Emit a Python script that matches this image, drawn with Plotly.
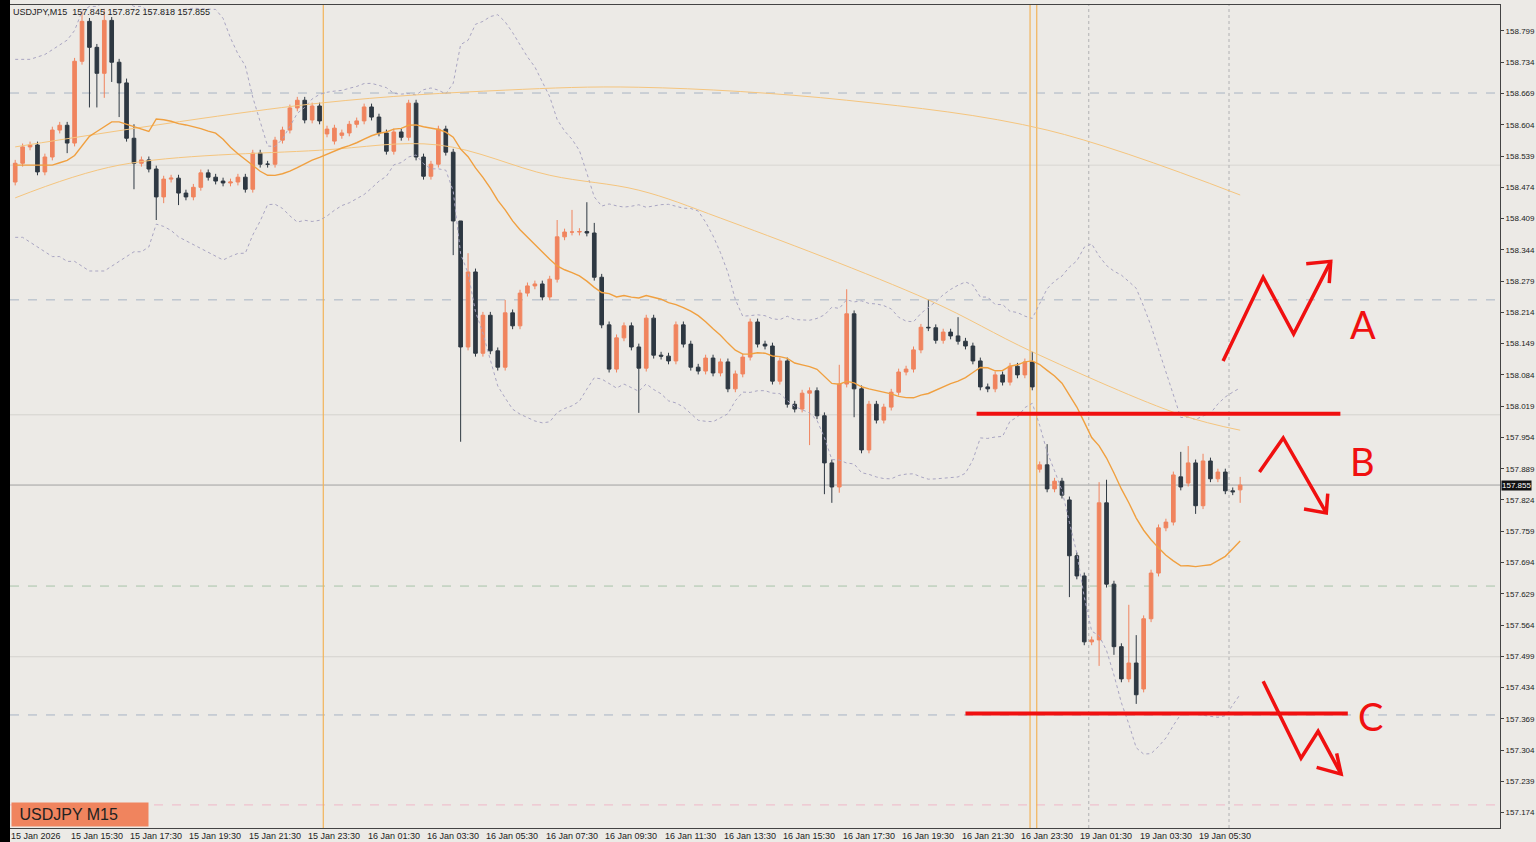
import plotly.graph_objects as go
import pandas as pd
import numpy as np

closes = [158.524,158.558,158.562,158.506,158.537,158.593,158.603,158.566,158.736,158.819,
158.765,158.711,158.821,158.734,158.691,158.576,158.524,158.531,158.512,158.454,
158.491,158.493,158.462,158.454,158.474,158.504,158.495,158.487,158.483,158.485,
158.495,158.470,158.545,158.522,158.522,158.572,158.593,158.639,158.655,158.614,
158.643,158.612,158.595,158.597,158.587,158.605,158.612,158.641,158.620,158.587,
158.549,158.589,158.578,158.649,158.537,158.497,158.522,158.595,158.547,158.404,
158.142,158.298,158.129,158.208,158.134,158.100,158.213,158.186,158.254,158.269,
158.273,158.246,158.283,158.371,158.381,158.381,158.382,158.379,158.287,158.188,
158.096,158.161,158.186,158.142,158.098,158.202,158.125,158.123,158.113,158.188,
158.148,158.100,158.092,158.119,158.088,158.111,158.055,158.086,158.121,158.194,
158.148,158.144,158.071,158.113,158.023,158.013,158.046,158.051,157.999,157.901,
157.851,158.065,158.211,158.055,157.928,158.023,157.990,158.017,158.048,158.090,
158.096,158.136,158.183,158.182,158.156,158.173,158.165,158.154,158.144,158.113,
158.059,158.055,158.084,158.069,158.102,158.084,158.111,158.059,157.897,157.847,
157.863,157.834,157.708,157.666,157.529,157.533,157.818,157.649,157.519,157.452,
157.485,157.419,157.577,157.672,157.766,157.778,157.876,157.851,157.901,157.812,
157.905,157.868,157.882,157.843,157.841,157.855]
first_open = 158.485
open_overrides = {42:158.585,43:158.570,44:158.582,138:157.888,142:157.824,152:157.431,
                  157:157.872,158:157.859,165:157.845}
high_overrides = {9:158.840,12:158.845,15:158.700,16:158.605,60:158.150,61:158.337,66:158.240,
                  73:158.406,75:158.427,77:158.443,78:158.400,111:158.105,112:158.262,
                  123:158.240,127:158.204,137:158.132,139:157.940,146:157.861,147:157.866,
                  150:157.606,151:157.543,157:157.924,158:157.936,160:157.920,161:157.912,165:157.872}
low_overrides = {7:158.545,10:158.640,11:158.640,12:158.660,13:158.693,14:158.620,16:158.470,
                 19:158.406,20:158.441,22:158.437,59:158.333,60:157.945,84:158.005,107:157.938,
                 109:157.836,110:157.818,111:157.839,113:157.996,142:157.622,146:157.479,
                 148:157.502,151:157.400,159:157.795,165:157.818}
wick = 0.007

# Bollinger band / MA values for the first candles (before 20 bars exist)
bb_upper_start = [158.74,158.74,158.74,158.745,158.75,158.76,158.77,158.78,158.80,158.84,
                  158.85,158.85,158.86,158.86,158.86,158.86,158.85,158.85,158.84]
bb_lower_start = [158.37,158.37,158.36,158.35,158.34,158.33,158.33,158.32,158.32,158.31,
                  158.30,158.30,158.30,158.31,158.32,158.33,158.34,158.34,158.35]
ma_start = [158.52,158.52,158.52,158.52,158.52,158.52,158.525,158.53,158.54,158.56,
            158.58,158.59,158.60,158.61,158.61,158.605,158.60,158.595,158.59]

tick_prices = ["158.799","158.734","158.669","158.604","158.539","158.474","158.409","158.344",
"158.279","158.214","158.149","158.084","158.019","157.954","157.889","157.824","157.759",
"157.694","157.629","157.564","157.499","157.434","157.369","157.304","157.239","157.174"]
time_labels = ["15 Jan 2026","15 Jan 15:30","15 Jan 17:30","15 Jan 19:30","15 Jan 21:30",
"15 Jan 23:30","16 Jan 01:30","16 Jan 03:30","16 Jan 05:30","16 Jan 07:30","16 Jan 09:30",
"16 Jan 11:30","16 Jan 13:30","16 Jan 15:30","16 Jan 17:30","16 Jan 19:30","16 Jan 21:30",
"16 Jan 23:30","19 Jan 01:30","19 Jan 03:30","19 Jan 05:30"]
label_step = 8

slowA_idx = [0,41,66,84,112,139,165]
slowA_val = [158.558,158.649,158.676,158.682,158.655,158.593,158.458]
slowB_idx = [0,14,41,57,72,84,95,123,137,157,165]
slowB_val = [158.452,158.520,158.551,158.562,158.499,158.468,158.410,158.240,158.132,158.001,157.969]

hlines = [(158.670,"#A8B4C4","dash"),(158.240,"#A8B4C4","dash"),(158.001,"#D4D2CE","solid"),
          (158.520,"#D8D6D2","solid"),(157.645,"#A8C4A8","dash"),(157.498,"#D4D2CE","solid"),
          (157.377,"#A8B4C4","dash"),(157.190,"#F0B8C8","dash"),(157.855,"#A0A0A0","solid")]
vlines = [(41.5,"#F2B45A","solid"),(136.7,"#F2B45A","solid"),(137.6,"#F2B45A","solid"),
          (144.6,"#BBBBBB","dot"),(163.5,"#BBBBBB","dot")]

red_levels = [(129.5,178.5,158.003),(128.0,179.5,157.380)]
arrows = {
 "A":[(162.7,158.113),(168.1,158.287),(172.2,158.169),(177.2,158.320)],
 "B":[(167.6,157.882),(170.8,157.953),(176.6,157.797)],
 "C":[(168.1,157.447),(173.2,157.287),(175.5,157.343),(178.6,157.254)],
}
heads = {"A":[(173.9,158.315),(177.2,158.320),(177.0,158.275)],
         "B":[(173.6,157.805),(176.6,157.797),(176.8,157.837)],
         "C":[(175.3,157.268),(178.6,157.254),(178.0,157.297)]}
letters = [("A",181.5,158.190),("B",181.5,157.905),("C",182.5,157.375)]

n = len(closes)
idx = list(range(n))
opens = [first_open] + closes[:-1]
for k, v in open_overrides.items():
    opens[k] = v
highs = [max(o, c) + wick for o, c in zip(opens, closes)]
lows = [min(o, c) - wick for o, c in zip(opens, closes)]
for k, v in high_overrides.items(): highs[k] = v
for k, v in low_overrides.items(): lows[k] = v

s = pd.Series(closes)
ma = s.rolling(20).mean()
sd = s.rolling(20).std(ddof=0)
bbu, bbl = (ma + 2 * sd).tolist(), (ma - 2 * sd).tolist()
ma = ma.tolist()
k0 = len(ma_start)
ma[:k0] = ma_start
bbu[:k0] = bb_upper_start
bbl[:k0] = bb_lower_start

fig = go.Figure()
for p, col, dash in hlines:
    fig.add_shape(type="line", xref="paper", x0=0, x1=1, y0=p, y1=p,
                  line=dict(color=col, width=1, dash=dash), layer="below")
for xv, col, dash in vlines:
    fig.add_shape(type="line", yref="paper", y0=0, y1=1, x0=xv, x1=xv,
                  line=dict(color=col, width=1.2, dash=dash), layer="below")

fig.add_trace(go.Scatter(x=idx, y=bbu, mode="lines", line=dict(color="#A9A5C2", width=1, dash="dot")))
fig.add_trace(go.Scatter(x=idx, y=bbl, mode="lines", line=dict(color="#A9A5C2", width=1, dash="dot")))
fig.add_trace(go.Scatter(x=slowA_idx, y=slowA_val, mode="lines", line=dict(color="#F5C57E", width=1, shape="spline")))
fig.add_trace(go.Scatter(x=slowB_idx, y=slowB_val, mode="lines", line=dict(color="#F5C57E", width=1, shape="spline")))
fig.add_trace(go.Scatter(x=idx, y=ma, mode="lines", line=dict(color="#F0A040", width=1.4)))
fig.add_trace(go.Candlestick(x=idx, open=opens, high=highs, low=lows, close=closes,
    increasing=dict(line=dict(color="#F0845E", width=1), fillcolor="#F0845E"),
    decreasing=dict(line=dict(color="#2E3842", width=1), fillcolor="#2E3842"),
    whiskerwidth=0))

for x0, x1, p in red_levels:
    fig.add_shape(type="line", x0=x0, x1=x1, y0=p, y1=p, line=dict(color="#F01010", width=4))
for key in arrows:
    for pts in (arrows[key], heads[key]):
        path = "M " + " L ".join(f"{a},{b}" for a, b in pts)
        fig.add_shape(type="path", path=path, line=dict(color="#F01010", width=3.5))
for t, xv, yv in letters:
    fig.add_annotation(x=xv, y=yv, text=t, showarrow=False,
                       font=dict(family="Lato", size=38, color="#F01010"))

for k, lab in enumerate(time_labels):
    fig.add_annotation(x=k * label_step - 0.4, y=0, yref="paper", yanchor="top", xanchor="left",
                       text=lab, showarrow=False, yshift=-1, xshift=-3,
                       font=dict(family="Liberation Sans", size=9, color="#222"))

fig.add_annotation(x=1, xref="paper", xanchor="left", y=157.855, text="157.855", showarrow=False,
                   bgcolor="#111111", borderpad=0, font=dict(family="Liberation Sans", size=8, color="white"), xshift=1)
fig.add_annotation(x=0.001, xref="paper", y=1, yref="paper", xanchor="left", yanchor="top",
                   text="USDJPY,M15  157.845 157.872 157.818 157.855", showarrow=False,
                   font=dict(family="Liberation Sans", size=9, color="#222"))
fig.add_annotation(x=0.001, xref="paper", y=0.001, yref="paper", xanchor="left", yanchor="bottom",
                   text=" USDJPY M15      ", showarrow=False, bgcolor="#F0845E",
                   borderpad=3, font=dict(family="Liberation Sans", size=16, color="#222"))
fig.add_shape(type="rect", xref="paper", yref="paper", x0=-0.0068, x1=0, y0=-0.02, y1=1.01,
              fillcolor="#000", line=dict(width=0))

fig.update_layout(
    width=1536, height=842, margin=dict(l=10, r=36, t=5, b=14, autoexpand=False),
    paper_bgcolor="#ECEAE6", plot_bgcolor="#ECEAE6", showlegend=False,
    xaxis=dict(range=[-0.7, 200], showgrid=False, zeroline=False, showticklabels=False,
               automargin=False, rangeslider=dict(visible=False),
               showline=True, linecolor="#444", mirror=True, ticks=""),
    yaxis=dict(range=[157.142, 158.853], side="right", showgrid=False, zeroline=False,
               automargin=False,
               tickvals=[float(t) for t in tick_prices], ticktext=tick_prices, ticks="outside",
               ticklen=3, tickfont=dict(family="Liberation Sans", size=8, color="#222"),
               showline=True, linecolor="#444", mirror=True),
)
fig.write_html("out.html", config={"displayModeBar": False},
               post_script="document.body.style.margin='0px';document.body.style.overflow='hidden';")
